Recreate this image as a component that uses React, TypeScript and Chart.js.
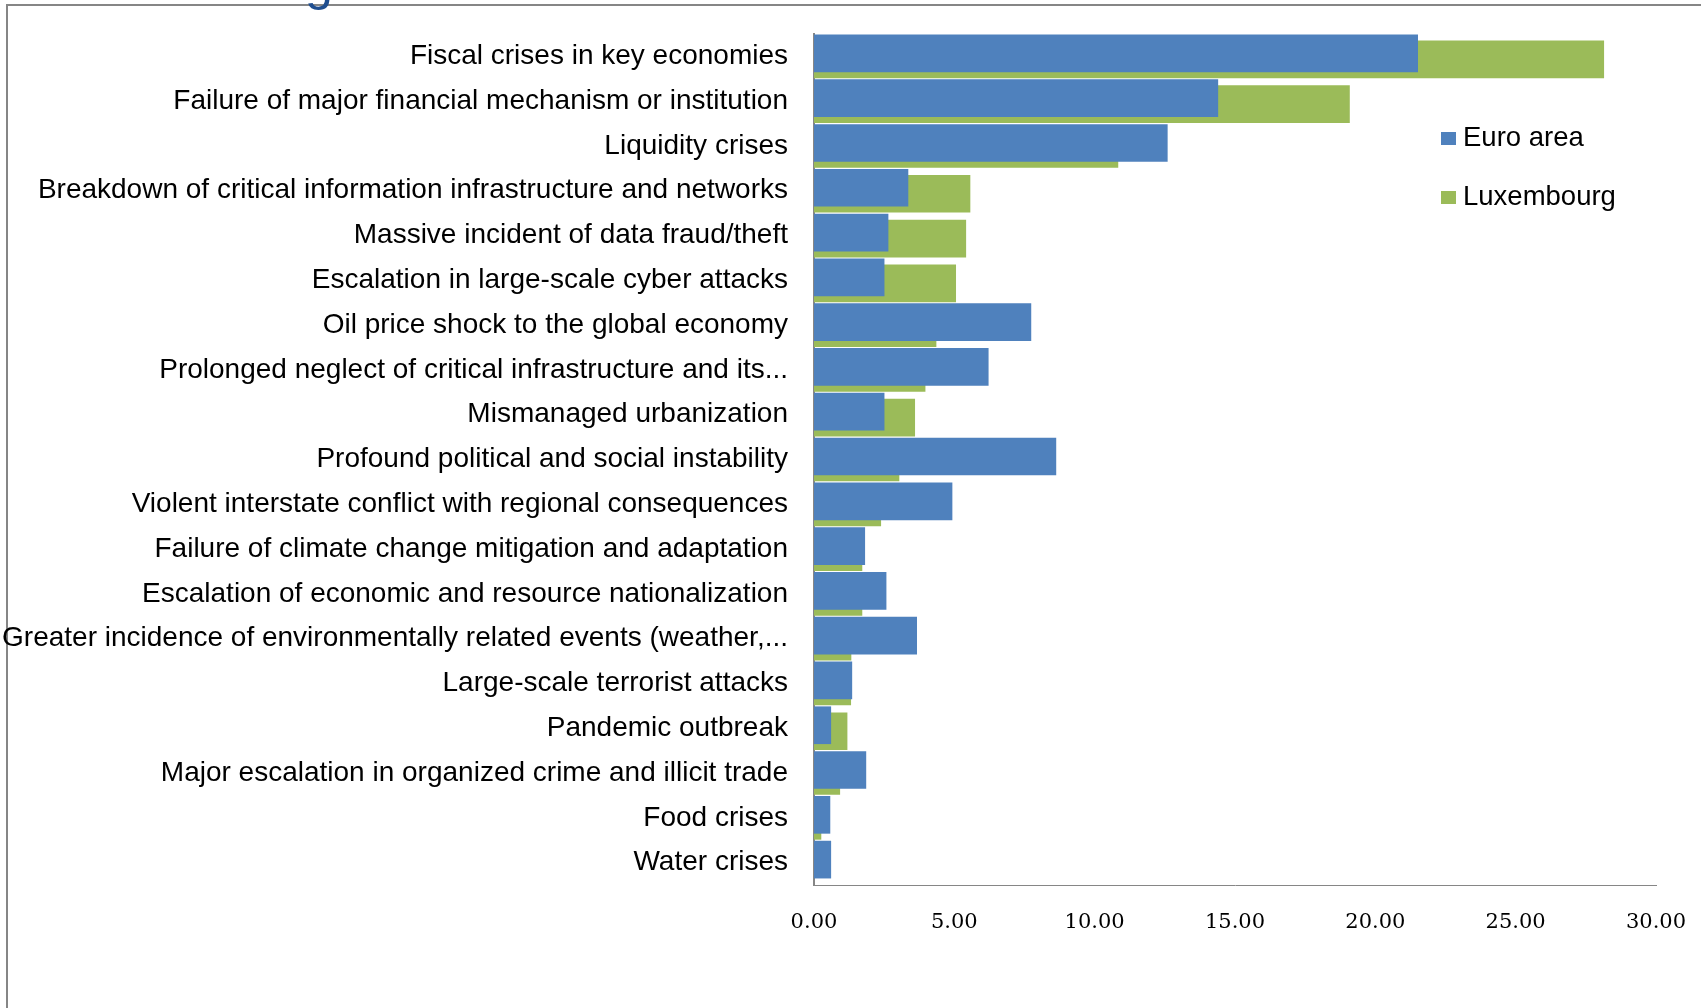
import React, { useEffect, useRef } from "react";
import { Chart, registerables } from "chart.js";

Chart.register(...registerables);

const categories = [
  "Fiscal crises in key economies",
  "Failure of major financial mechanism or institution",
  "Liquidity crises",
  "Breakdown of critical information infrastructure and networks",
  "Massive incident of data fraud/theft",
  "Escalation in large-scale cyber attacks",
  "Oil price shock to the global economy",
  "Prolonged neglect of critical infrastructure and its...",
  "Mismanaged urbanization",
  "Profound political and social instability",
  "Violent interstate conflict with regional consequences",
  "Failure of climate change mitigation and adaptation",
  "Escalation of economic and resource nationalization",
  "Greater incidence of environmentally related events (weather,...",
  "Large-scale terrorist attacks",
  "Pandemic outbreak",
  "Major escalation in organized crime and illicit trade",
  "Food crises",
  "Water crises",
];

const euroArea = [
  21.52, 14.4, 12.6, 3.36, 2.65, 2.51, 7.74, 6.22, 2.51, 8.63, 4.93, 1.82, 2.58,
  3.67, 1.36, 0.61, 1.86, 0.58, 0.61,
];

const luxembourg = [
  28.15, 19.09, 10.84, 5.57, 5.42, 5.06, 4.36, 3.97, 3.6, 3.04, 2.39, 1.72, 1.72,
  1.33, 1.32, 1.19, 0.93, 0.26, 0,
];

const seriesNames = ["Euro area", "Luxembourg"];
const seriesColors = ["#4F81BD", "#9BBB59"];
const xTickValues = [0, 5, 10, 15, 20, 25, 30];

const SANS = "'Liberation Sans', Arial, sans-serif";

const legendPlugin = {
  id: "sideLegend",
  afterDraw(chart: any) {
    const ctx = chart.ctx;
    const area = chart.chartArea;
    ctx.save();
    ctx.font = "27.5px 'Liberation Sans'";
    ctx.textBaseline = "middle";
    ctx.textAlign = "left";
    chart.data.datasets.forEach((ds: any, i: number) => {
      const x = area.right - 215;
      const y = area.top + 104 + i * 59;
      ctx.fillStyle = ds.backgroundColor;
      ctx.fillRect(x, y - 6, 15, 13);
      ctx.fillStyle = "#000000";
      ctx.fillText(ds.label, x + 22, y);
    });
    ctx.restore();
  },
};

export default function App() {
  const canvasRef = useRef<HTMLCanvasElement | null>(null);

  useEffect(() => {
    const canvas = canvasRef.current;
    if (!canvas) return;
    const chart = new Chart(canvas, {
      type: "bar",
      data: {
        labels: categories,
        datasets: [
          {
            label: seriesNames[0],
            data: euroArea,
            backgroundColor: seriesColors[0],
            order: 0,
            categoryPercentage: 0.268,
            barPercentage: 6.28,
          },
          {
            label: seriesNames[1],
            data: luxembourg,
            backgroundColor: seriesColors[1],
            order: 1,
            categoryPercentage: 0.268,
            barPercentage: 6.28,
          },
        ],
      },
      options: {
        indexAxis: "y",
        responsive: false,
        animation: false,
        layout: { padding: { top: 34, right: 45, bottom: 0, left: 0 } },
        plugins: {
          legend: { display: false },
          tooltip: { enabled: false },
        },
        scales: {
          x: {
            type: "linear",
            position: "bottom",
            min: 0,
            max: 30,
            afterBuildTicks: (scale: any) => {
              scale.ticks = xTickValues.map((v) => ({ value: v }));
            },
            afterFit: (scale: any) => {
              scale.height = 123;
              scale.paddingLeft = 0;
              scale.paddingRight = 0;
            },
            ticks: {
              callback: (v: any) => Number(v).toFixed(2),
              font: { family: "DejaVu Serif", size: 21 },
              color: "#000000",
              padding: 25,
              maxRotation: 0,
            },
            grid: { display: false, drawTicks: false },
            border: { display: true, color: "#868686", width: 1 },
          },
          y: {
            type: "category",
            afterFit: (scale: any) => {
              scale.width = 814;
              scale.paddingTop = 0;
              scale.paddingBottom = 0;
            },
            ticks: {
              font: { family: SANS, size: 28 },
              color: "#000000",
              padding: 26,
              autoSkip: false,
            },
            grid: { display: false, drawTicks: false },
            border: { display: true, color: "#868686", width: 2 },
          },
        },
      } as any,
      plugins: [legendPlugin],
    });
    return () => chart.destroy();
  }, []);

  return (
    <div
      style={{
        position: "absolute",
        left: 0,
        top: 0,
        width: 1701,
        height: 1008,
        overflow: "hidden",
        background: "#ffffff",
      }}
    >
      <div
        style={{
          position: "absolute",
          left: 6,
          top: 4,
          width: 1800,
          height: 1100,
          borderLeft: "2px solid #868686",
          borderTop: "2px solid #868686",
        }}
      />
      <canvas
        ref={canvasRef}
        width={1701}
        height={1008}
        style={{ position: "absolute", left: 0, top: 0, width: 1701, height: 1008 }}
      />
      <div
        style={{
          position: "absolute",
          left: 305,
          top: -42,
          fontFamily: SANS,
          fontSize: 50,
          lineHeight: 1,
          color: "#1F4E8F",
        }}
      >
        g
      </div>
    </div>
  );
}
